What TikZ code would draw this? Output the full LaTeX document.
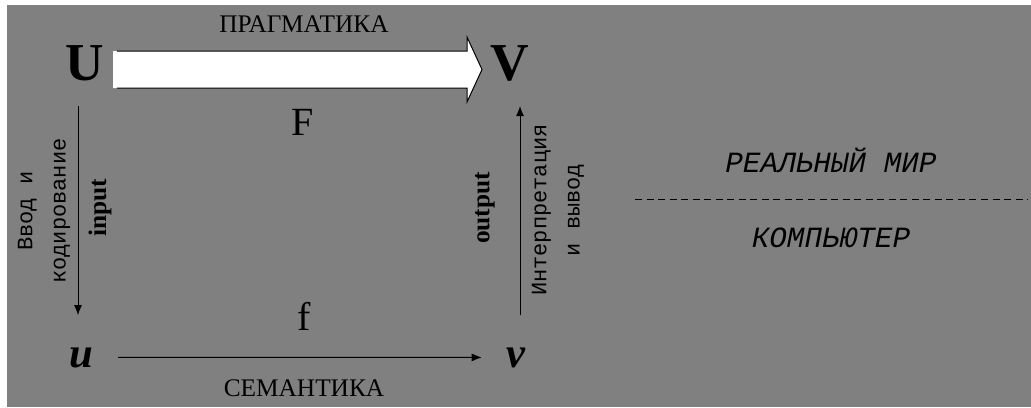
\documentclass[tikz,border=0pt]{standalone}
\usepackage{fontspec}
\setmainfont{Liberation Serif}
\setmonofont{Liberation Mono}
\usetikzlibrary{arrows.meta}
\definecolor{bg}{RGB}{128,128,128}

\begin{document}
\begin{tikzpicture}[x=0.75pt,y=-0.75pt,
  setnode/.style={font=\fontsize{40}{48}\selectfont\bfseries,inner sep=0,anchor=base},
  elem/.style={font=\fontsize{32}{38}\selectfont\bfseries\itshape,inner sep=0,anchor=base},
  fname/.style={font=\fontsize{30}{36}\selectfont,inner sep=0,anchor=base},
  title/.style={font=\fontsize{19}{23}\selectfont,inner sep=0,anchor=base},
  io/.style={font=\fontsize{19}{23}\selectfont\bfseries,inner sep=0,rotate=90},
  note/.style={font=\fontsize{16.5}{25}\selectfont\ttfamily,inner sep=0,rotate=90,align=center},
  world/.style={font=\fontsize{22}{26}\selectfont\ttfamily\itshape,inner sep=0,anchor=base},
  arr/.style={-{Latex[length=7.5pt,width=6pt]},line width=0.75pt}]
\useasboundingbox (0,0) rectangle (1031,407);
\fill[bg] (7,5) rectangle (1031,407);
% the four sets
\node[setnode] (U) at (85,80) {U};
\node[setnode] (V) at (510,80) {V};
\node[elem] (u) at (81,367) {u};
\node[elem] (v) at (516,367) {v};
% pragmatics: the block arrow
\coordinate (ps) at (113,69.5);
\coordinate (pe) at (482,69.5);
\fill[white] (ps) ++(0,-18.5) -- ++(354,0) -- ++(0,-14) -- (pe) -- ++(-15,32.5) -- ++(0,-14) -- ++(-354,0) -- cycle;
\draw[line width=0.75pt] (ps) ++(4,-18.5) -- ++(350,0) -- ++(0,-14) -- (pe) -- ++(-15,32.5) -- ++(0,-14) -- ++(-350,0);
\node[title] (prag) at (304,32) {ПРАГМАТИКА};
\node[fname] (F) at (303,135) {F};
% input and output
\coordinate (cl) at (78,0);
\coordinate (cr) at (520,0);
\draw[arr,shorten <=18.75pt,shorten >=24pt] (U.south -| cl) -- (u.north -| cl);
\draw[arr,shorten <=24pt,shorten >=18.75pt] (v.north -| cr) -- (V.south -| cr);
\node[note] (enc) at (44,211) {Ввод и\\кодирование};
\node[io] (in) at (100,208) {input};
\node[io] (out) at (485,208) {output};
\node[note] (dec) at (558,210) {Интерпретация\\и вывод};
% semantics
\draw[arr,shorten <=18.75pt,shorten >=18.4pt] (u.east) -- (v.west);
\node[fname] (f) at (304,330) {f};
\node[title] (sem) at (304,396) {СЕМАНТИКА};
% real world / computer
\node[world] (real) at (831,172) {РЕАЛЬНЫЙ МИР};
\coordinate (dl) at (635,199);
\coordinate (dr) at (1028,199);
\draw[line width=0.75pt,dash pattern=on 5.25pt off 3.4pt] (dl) -- (dr);
\node[world] (comp) at (831,247) {КОМПЬЮТЕР};
\end{tikzpicture}
\end{document}
